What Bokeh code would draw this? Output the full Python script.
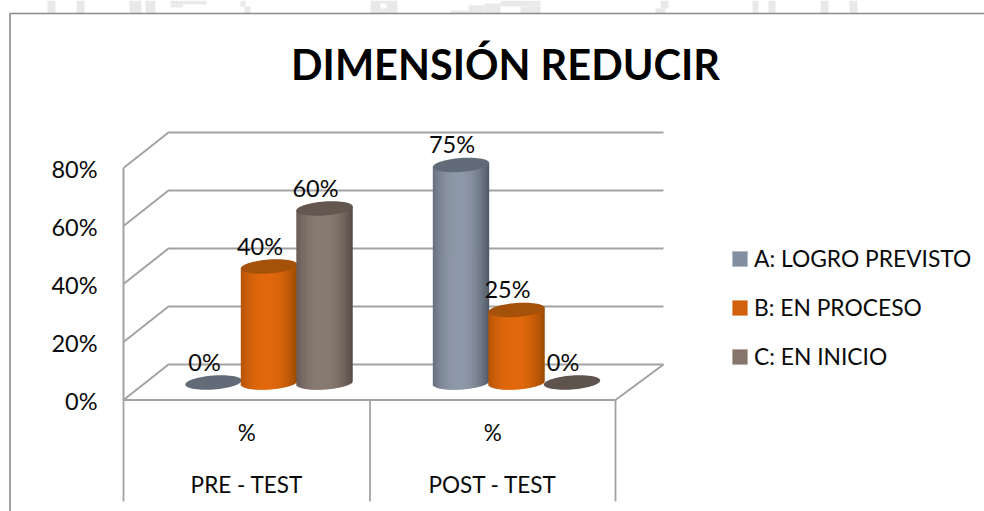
import math
from bokeh.embed import file_html
from bokeh.resources import INLINE
from bokeh.plotting import figure
from bokeh.models import Range1d, Legend, LegendItem
from bokeh.core.properties import value

# ---- chart data -------------------------------------------------------
TITLE = "DIMENSIÓN REDUCIR"
groups = ["PRE - TEST", "POST - TEST"]
group_sub = ["%", "%"]
series = ["A: LOGRO PREVISTO", "B: EN PROCESO", "C: EN INICIO"]
logro = [0, 75]
proceso = [40, 25]
inicio = [60, 0]
y_ticks = [0, 20, 40, 60, 80]

# ---- styling ----------------------------------------------------------
FONT = "Lato"
TXT = "#0a0a0a"
GRID = "#a3a3a3"
BORDER = "#8a8a8a"
EDGE = ["#4f5965", "#9a4a05", "#554a45"]
MID = ["#8e98a8", "#e2680c", "#887b72"]
TOP = ["#626c78", "#a65109", "#63574f"]
SWATCH = ["#838fa0", "#d2610c", "#85766d"]
FLAT = ["#626c78", "#a65109", "#5f534d"]

W, H = 984, 511
PX = 2.9          # pixels per percentage point
BASE = 382        # pixel row of the zero line at mid depth


def yv(px):
    return (BASE - px) / PX


BACK = yv(364)
FRONT = yv(399.5)

p = figure(width=W, height=H, output_backend="svg", toolbar_location=None,
           x_axis_type=None, y_axis_type=None, min_border=0,
           x_range=Range1d(0, W), y_range=Range1d(yv(H), yv(0)),
           outline_line_color=None, background_fill_color="white",
           border_fill_color="white")
p.styles = {"position": "absolute", "left": "0px", "top": "0px"}
p.grid.visible = False

# faint watermark showing above the chart frame
wm = [(47, 55, 0, 13), (76, 84, 0, 13), (129, 141, 0, 13), (145, 155, 0, 13),
      (170, 206, 0, 4), (170, 182, 4, 7), (240, 245, 0, 6), (244, 250, 6, 13),
      (370, 397, 0, 13), (450, 468, 10, 13), (468, 484, 5, 13),
      (484, 500, 3, 13), (500, 530, 0, 6), (520, 540, 6, 13), (530, 540, 0, 6),
      (655, 665, 8, 13), (660, 668, 0, 8), (752, 758, 0, 13), (768, 775, 0, 13),
      (820, 828, 0, 13), (849, 857, 0, 13)]
p.quad(left=[a[0] for a in wm], right=[a[1] for a in wm],
       top=[yv(a[2]) for a in wm], bottom=[yv(a[3]) for a in wm],
       fill_color="#e9e9e9", line_color=None)
p.quad(left=[380], right=[386], top=[yv(3)], bottom=[yv(8)], fill_color="white", line_color=None)

# chart frame
p.line([9.5, 9.5, W], [yv(H), yv(13), yv(13)], line_color=BORDER, line_width=1.6)

# walls and grid
XF0, XF1, XB0, XB1 = 123, 615, 168, 663
for t in y_ticks:
    p.line([XF0, XB0, XB1], [t + FRONT, t + BACK, t + BACK], line_color=GRID, line_width=2)
p.line([XF0, XF0], [FRONT, y_ticks[-1] + FRONT], line_color=GRID, line_width=2)
p.line([XF0, XF1, XB1], [FRONT, FRONT, BACK], line_color=GRID, line_width=2)

# category axis box
bottom_px = 501
XM = (XF0 + XF1) / 2 + 0.5
for x in [XF0, XM, XF1]:
    p.line([x, x], [FRONT, yv(bottom_px)], line_color=GRID, line_width=1.8)

# y tick labels
p.text(x=[97] * len(y_ticks), y=[t + FRONT - 0.3 for t in y_ticks],
       text=[f"{t}%" for t in y_ticks], text_font=value(FONT), text_font_size="23.5px",
       text_color=TXT, text_align="right", text_baseline="middle")

# category labels
centers = [(XF0 + XM) / 2, (XM + XF1) / 2]
p.text(x=centers, y=[yv(432)] * 2, text=group_sub, text_font=value(FONT),
       text_font_size="22.5px", text_color=TXT, text_align="center", text_baseline="middle")
p.text(x=centers, y=[yv(484)] * 2, text=groups, text_font=value(FONT),
       text_font_size="22.5px", text_color=TXT, text_align="center", text_baseline="middle")


# cylinders
def mix(c1, c2, t):
    a = [int(c1[i:i + 2], 16) for i in (1, 3, 5)]
    b = [int(c2[i:i + 2], 16) for i in (1, 3, 5)]
    return "#%02x%02x%02x" % tuple(round(a[i] + (b[i] - a[i]) * t) for i in range(3))


A_HALF, B_HALF, TILT = 28.2, 7.0, 2.0
STEP = 55.5
GROUP_CX = [268.5, 516.0]
vals = [logro, proceso, inicio]
labels = []

for g, gc in enumerate(GROUP_CX):
    for s, arr in enumerate(vals):
        v = arr[g]
        cx = gc + (s - 1) * STEP
        if v > 0:
            n = 36
            xr = cx + A_HALF
            ls, rs, ts, bs, cs = [], [], [], [], []
            for i in range(n):
                x0 = cx - A_HALF + 2 * A_HALF * i / n
                x1 = cx - A_HALF + 2 * A_HALF * (i + 1) / n
                u = ((x0 + x1) / 2 - cx) / A_HALF
                low = -B_HALF * math.sqrt(max(0, 1 - u * u)) + TILT * u
                ls.append(x0)
                rs.append(min(xr, x1 + 1.0))
                ts.append(v + TILT * u / PX)
                bs.append(low / PX)
                d = abs(u + 0.1) / 1.1
                cs.append(mix(MID[s], EDGE[s], d ** 2.2))
            p.quad(left=ls, right=rs, top=ts, bottom=bs, fill_color=cs, line_color=None)
        ts_ = [2 * math.pi * k / 60 for k in range(60)]
        ex = [cx + A_HALF * math.cos(a) for a in ts_]
        ey = [v + (B_HALF * math.sin(a) + TILT * math.cos(a)) / PX for a in ts_]
        p.patch(ex, ey, fill_color=TOP[s] if v > 0 else FLAT[s], line_color=None)
        labels.append((cx - 9, v + 21 / PX, f"{v}%"))

p.text(x=[a[0] for a in labels], y=[a[1] for a in labels], text=[a[2] for a in labels],
       text_font=value(FONT), text_font_size="23.5px", text_color=TXT,
       text_align="center", text_baseline="middle")

# title
p.text(x=[505], y=[yv(63.5)], text=[TITLE], text_font=value(FONT), text_font_size="41.5px",
       text_font_style="bold", text_color="#000000", text_align="center", text_baseline="middle")

# legend
items = []
for s, name in enumerate(series):
    r = p.quad(left=[0], right=[0], top=[0], bottom=[0], fill_color=SWATCH[s], line_color=None)
    items.append(LegendItem(label=name, renderers=[r]))
leg = Legend(items=items, location=(730, 141), orientation="vertical",
             background_fill_alpha=0, border_line_color=None, margin=0, padding=0,
             glyph_width=19, glyph_height=19, spacing=21, label_standoff=5,
             label_text_font=FONT, label_text_font_size="22.8px", label_text_color=TXT,
             label_height=19)
p.add_layout(leg, "center")

open("out.html", "w").write(file_html(p, INLINE))
